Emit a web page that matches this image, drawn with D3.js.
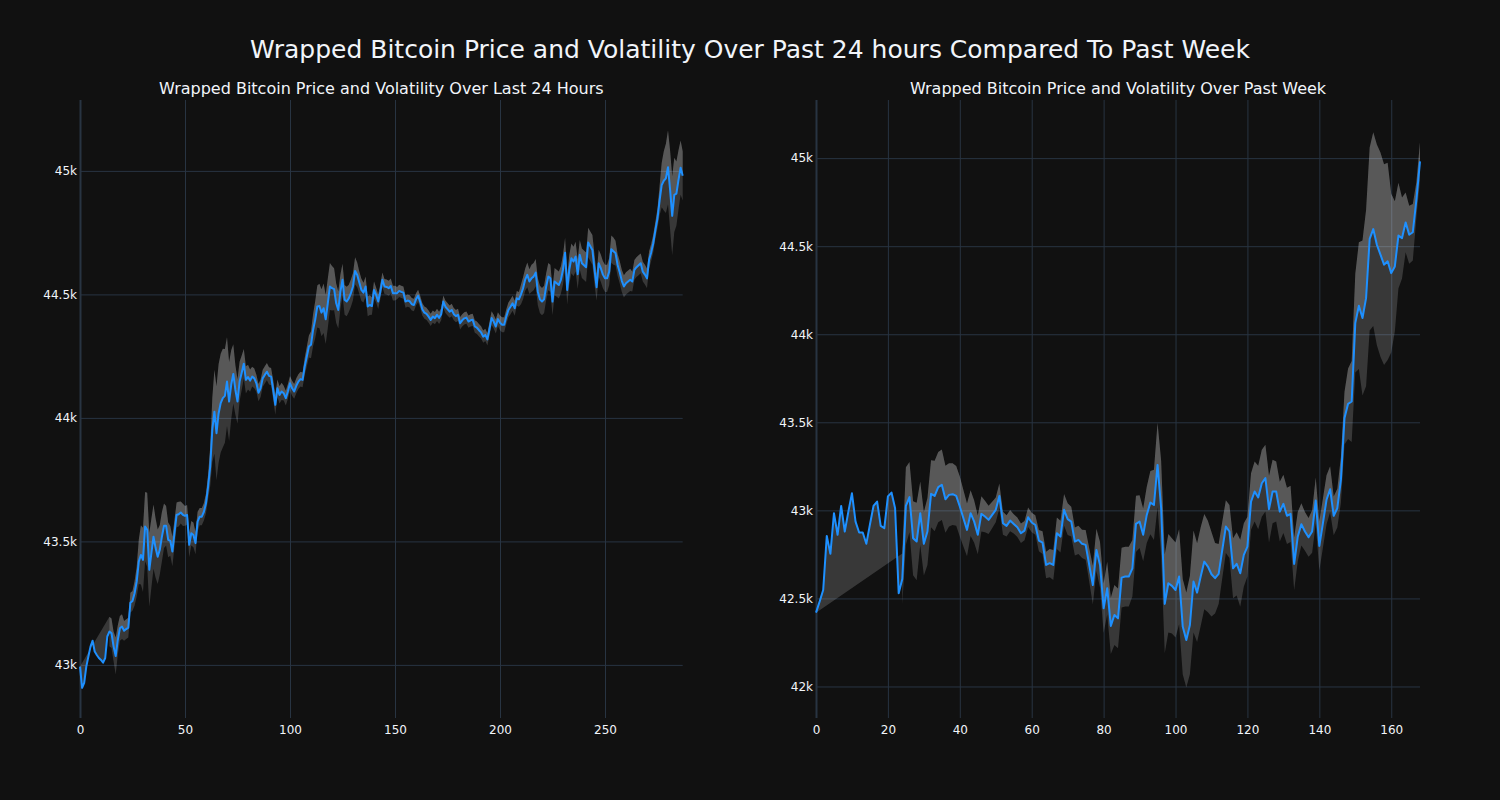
<!DOCTYPE html>
<html>
<head>
<meta charset="utf-8">
<script src="https://cdn.jsdelivr.net/npm/d3@7"></script>
<style>
html, body { margin: 0; padding: 0; background: #111111; }
svg { display: block; font-family: "DejaVu Sans", sans-serif; }
</style>
</head>
<body>
<svg id="chart" width="1500" height="800"></svg>
<script>
// ---------------- data ----------------
const mainTitle = "Wrapped Bitcoin Price and Volatility Over Past 24 hours Compared To Past Week";
const dayTitle = "Wrapped Bitcoin Price and Volatility Over Last 24 Hours";
const weekTitle = "Wrapped Bitcoin Price and Volatility Over Past Week";

const dayPrice = [
  42993, 42907, 42927, 42993, 43034, 43074, 43098, 43054, 43040, 43028,
  43020, 43009, 43028, 43115, 43135, 43128, 43074, 43036, 43101, 43148,
  43155, 43138, 43145, 43151, 43252, 43259, 43290, 43337, 43418, 43445,
  43425, 43560, 43547, 43385, 43453, 43519, 43473, 43438, 43466, 43519,
  43563, 43563, 43506, 43502, 43459, 43534, 43607, 43610, 43617, 43607,
  43603, 43607, 43486, 43533, 43526, 43493, 43580, 43600, 43600, 43620,
  43654, 43722, 43803, 43951, 44025, 43938, 44018, 44060, 44080, 44089,
  44147, 44066, 44134, 44178, 44113, 44066, 44147, 44183, 44219, 44154,
  44165, 44151, 44167, 44160, 44140, 44102, 44120, 44160, 44174, 44187,
  44170, 44167, 44113, 44053, 44120, 44093, 44107, 44100, 44080, 44107,
  44140, 44120, 44107, 44130, 44147, 44157, 44154, 44208, 44248, 44289,
  44296, 44356, 44397, 44451, 44453, 44426, 44444, 44399, 44464, 44532,
  44525, 44521, 44464, 44437, 44511, 44559, 44478, 44471, 44484, 44505,
  44532, 44595, 44579, 44548, 44518, 44507, 44532, 44451, 44457, 44453,
  44518, 44498, 44471, 44510, 44559, 44532, 44530, 44525, 44534, 44505,
  44505, 44505, 44514, 44510, 44507, 44471, 44475, 44472, 44460, 44457,
  44480, 44494, 44470, 44440, 44426, 44421, 44410, 44397, 44410, 44404,
  44417, 44405, 44420, 44471, 44450, 44440, 44430, 44437, 44420, 44412,
  44417, 44383, 44395, 44403, 44406, 44390, 44395, 44397, 44370, 44365,
  44355, 44346, 44329, 44336, 44318, 44360, 44404, 44390, 44370, 44400,
  44385, 44377, 44377, 44410, 44437, 44450, 44464, 44444, 44484, 44480,
  44500, 44525, 44560, 44579, 44552, 44565, 44572, 44588, 44511, 44480,
  44471, 44480, 44532, 44572, 44565, 44471, 44552, 44545, 44538, 44559,
  44600, 44669, 44518, 44600, 44646, 44633, 44653, 44582, 44660, 44626,
  44618, 44610, 44710, 44695, 44680, 44600, 44529, 44626, 44606, 44580,
  44565, 44565, 44592, 44683, 44675, 44667, 44619, 44590, 44555, 44532,
  44545, 44552, 44559, 44552, 44599, 44610, 44618, 44626, 44592, 44580,
  44565, 44640, 44670, 44707, 44760, 44808, 44880, 44943, 44960, 44970,
  45015, 44923, 44818, 44903, 44908, 44964, 45013, 44980
];

const dayVolatility = [
  null, null, null, null, null, null, null, null, null, null,
  null, null, null, null, 60, 60, 60, 75, 60, 50,
  50, 40, 40, 40, 40, 40, 50, 60, 90, 120,
  130, 140, 150, 150, 140, 130, 120, 110, 100, 100,
  90, 80, 70, 60, 60, 55, 50, 50, 45, 45,
  40, 40, 50, 50, 50, 45, 40, 35, 35, 35,
  40, 50, 80, 130, 170, 190, 200, 200, 200, 190,
  180, 160, 140, 120, 100, 90, 80, 70, 60, 55,
  50, 45, 40, 40, 35, 35, 35, 35, 35, 35,
  35, 35, 40, 40, 35, 35, 35, 30, 30, 30,
  30, 30, 30, 30, 30, 30, 30, 35, 40, 45,
  55, 65, 75, 85, 90, 95, 100, 100, 100, 95,
  90, 85, 80, 75, 70, 65, 60, 60, 55, 55,
  55, 55, 50, 45, 45, 40, 40, 40, 40, 35,
  35, 30, 30, 30, 30, 30, 30, 30, 30, 30,
  30, 25, 25, 25, 25, 25, 25, 25, 25, 25,
  25, 25, 25, 25, 25, 25, 25, 25, 25, 25,
  25, 25, 25, 25, 25, 25, 25, 25, 25, 25,
  25, 25, 25, 25, 25, 25, 25, 25, 25, 25,
  25, 25, 25, 25, 25, 28, 28, 28, 28, 28,
  30, 30, 30, 30, 30, 30, 30, 30, 30, 30,
  40, 45, 45, 50, 50, 55, 55, 55, 55, 55,
  55, 55, 55, 55, 55, 55, 55, 55, 55, 55,
  60, 60, 60, 60, 60, 60, 60, 60, 60, 60,
  60, 60, 60, 60, 60, 60, 55, 55, 55, 55,
  55, 55, 55, 55, 55, 50, 45, 45, 45, 45,
  45, 45, 45, 40, 40, 40, 40, 40, 40, 40,
  40, 35, 35, 35, 35, 40, 60, 90, 120, 140,
  150, 160, 160, 150, 130, 120, 110, 100
];

const weekPrice = [
  42419, 42482, 42548, 42855, 42753, 42984, 42861, 43025, 42880, 42993,
  43097, 42936, 42874, 42874, 42810, 42920, 43025, 43050, 42912, 42899,
  43079, 43101, 43012, 42529, 42610, 43025, 43075, 42842, 42823, 42984,
  42810, 42880, 43094, 43082, 43132, 43145, 43063, 43088, 43092, 43082,
  43022, 42955, 42889, 42984, 42936, 42861, 42980, 42965, 42946, 42974,
  43003, 43082, 42927, 42912, 42942, 42923, 42904, 42870, 42885, 42961,
  42931, 42917, 42828, 42817, 42690, 42700, 42690, 42870, 42851, 43003,
  42950, 42936, 42823, 42832, 42810, 42804, 42690, 42576, 42775, 42690,
  42444, 42558, 42344, 42406, 42387, 42618, 42624, 42624, 42671, 42923,
  42936, 42861, 42974, 43044, 43031, 43258, 43012, 42469, 42586, 42571,
  42548, 42624, 42340, 42264, 42349, 42596, 42533, 42624, 42709, 42681,
  42637, 42615, 42639, 42775, 42908, 42880, 42671, 42696, 42643, 42747,
  42794, 43050, 43107, 43073, 43154, 43183, 43007, 43107, 43107, 42993,
  43037, 42969, 42980, 42696, 42851, 42921, 42880, 42847, 42880, 43056,
  42798, 42927, 43060, 43120, 42969, 43012, 43173, 43524, 43605, 43618,
  44063, 44162, 44092, 44205, 44541, 44597, 44508, 44452, 44395, 44414,
  44347, 44385, 44560, 44546, 44635, 44565, 44579, 44764, 44982
];

const weekVolatility = [
  null, null, null, null, null, null, null, null, null, null,
  null, null, null, null, null, null, null, null, null, null,
  null, null, null, null, 145, 220, 200, 210, 220, 180,
  180, 190, 190, 200, 200, 200, 190, 180, 175, 170,
  170, 160, 150, 130, 120, 110, 100, 90, 80, 75,
  70, 70, 65, 60, 60, 55, 55, 55, 55, 55,
  55, 55, 60, 65, 75, 80, 85, 90, 90, 90,
  90, 85, 80, 80, 80, 85, 95, 110, 120, 130,
  140, 150, 160, 170, 170, 170, 170, 170, 160, 160,
  150, 150, 160, 180, 200, 240, 270, 280, 280, 270,
  270, 270, 270, 270, 280, 290, 280, 280, 270, 260,
  240, 200, 170, 160, 150, 150, 170, 180, 190, 180,
  170, 160, 170, 180, 190, 190, 190, 180, 170, 170,
  165, 160, 160, 150, 140, 120, 110, 110, 120, 130,
  140, 140, 140, 130, 110, 110, 130, 150, 200, 230,
  280, 360, 440, 500, 520, 550, 570, 580, 570, 560,
  450, 370, 300, 230, 170, 165, 160, 100, 110
];

const dayXTicks = [0, 50, 100, 150, 200, 250];
const weekXTicks = [0, 20, 40, 60, 80, 100, 120, 140, 160];
const dayYTicks = [43000, 43500, 44000, 44500, 45000];
const weekYTicks = [42000, 42500, 43000, 43500, 44000, 44500, 45000];
const dayYRange = [42785, 45287];
const weekYRange = [41821, 45330];

// ---------------- style / layout ----------------
const FONT = "'DejaVu Sans', sans-serif";
const BG = "#111111";
const GRID = "#283442";
const TEXT = "#f2f5fa";
const LINE = "#1e90ff";
const BAND = "rgba(255,255,255,0.165)";
const plotTop = 100, plotBottom = 718;

const panels = [
  { price: dayPrice, vol: dayVolatility, xTicks: dayXTicks, yTicks: dayYTicks,
    yRange: dayYRange, title: dayTitle, left: 80, right: 682.7 },
  { price: weekPrice, vol: weekVolatility, xTicks: weekXTicks, yTicks: weekYTicks,
    yRange: weekYRange, title: weekTitle, left: 816, right: 1420 }
];

const svg = d3.select("#chart");
svg.append("rect").attr("width", 1500).attr("height", 800).attr("fill", BG);

svg.append("text")
  .attr("x", 750).attr("y", 58)
  .attr("text-anchor", "middle")
  .attr("fill", TEXT)
  .attr("font-family", FONT)
  .attr("font-size", 25)
  .text(mainTitle);

panels.forEach(p => {
  const x = d3.scaleLinear().domain([0, p.price.length - 1]).range([p.left, p.right]);
  const y = d3.scaleLinear().domain(p.yRange).range([plotBottom, plotTop]);
  const g = svg.append("g");

  // y grid + labels
  const yAxis = g.append("g")
    .attr("transform", `translate(${p.left},0)`)
    .call(d3.axisLeft(y).tickValues(p.yTicks).tickFormat(d3.format("~s"))
      .tickSize(-(p.right - p.left)).tickPadding(3));
  yAxis.select(".domain").remove();
  yAxis.selectAll("line").attr("stroke", GRID).attr("stroke-width", 1);
  yAxis.selectAll("text").attr("fill", TEXT).attr("font-size", 12)
    .attr("font-family", FONT);

  // x grid + labels
  const xAxis = g.append("g")
    .attr("transform", `translate(0,${plotBottom})`)
    .call(d3.axisBottom(x).tickValues(p.xTicks).tickFormat(d3.format("d"))
      .tickSize(-(plotBottom - plotTop)).tickPadding(7));
  xAxis.select(".domain").remove();
  xAxis.selectAll("line").attr("stroke", GRID).attr("stroke-width", d => d === 0 ? 2 : 1);
  xAxis.selectAll("text").attr("fill", TEXT).attr("font-size", 12)
    .attr("font-family", FONT);

  // bands (upper fill to price, lower fill to upper)
  const pricePts = p.price.map((v, i) => [x(i), y(v)]);
  const upperPts = p.price.map((v, i) => p.vol[i] == null ? null : [x(i), y(v + p.vol[i])]).filter(Boolean);
  const lowerPts = p.price.map((v, i) => p.vol[i] == null ? null : [x(i), y(v - p.vol[i])]).filter(Boolean);
  const line = d3.line();

  g.append("path")
    .attr("d", line(upperPts.concat(pricePts.slice().reverse())) + "Z")
    .attr("fill", BAND).attr("stroke", "none");
  g.append("path")
    .attr("d", line(lowerPts.concat(upperPts.slice().reverse())) + "Z")
    .attr("fill", BAND).attr("stroke", "none");

  // price line
  g.append("path")
    .attr("d", line(pricePts))
    .attr("fill", "none")
    .attr("stroke", LINE)
    .attr("stroke-width", 2)
    .attr("stroke-linejoin", "round");

  // subplot title
  g.append("text")
    .attr("x", (p.left + p.right) / 2).attr("y", 94)
    .attr("text-anchor", "middle")
    .attr("fill", TEXT)
    .attr("font-family", FONT)
    .attr("font-size", 16)
    .text(p.title);
});
</script>
</body>
</html>
